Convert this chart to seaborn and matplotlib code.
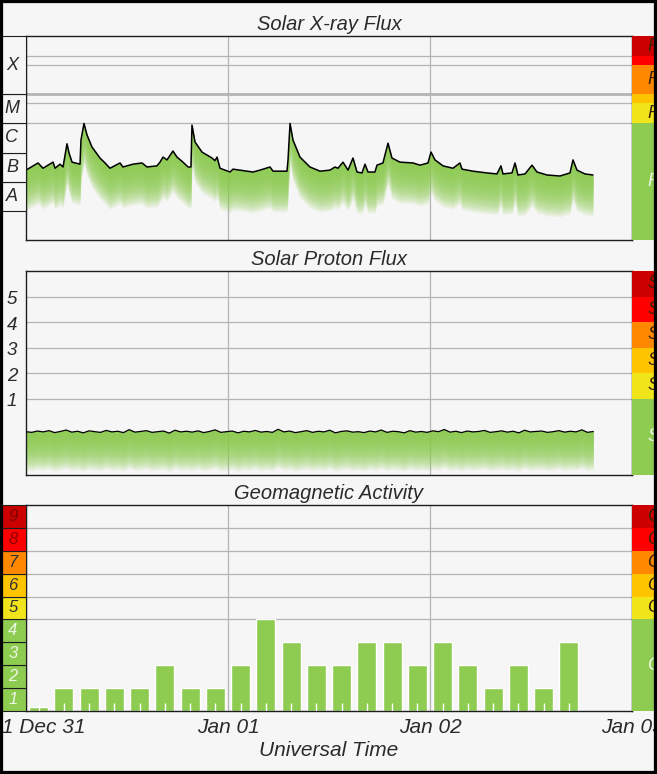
import numpy as np
import matplotlib
matplotlib.use("Agg")
import matplotlib.pyplot as plt
import matplotlib.transforms as mtransforms
from matplotlib.patches import Rectangle
import seaborn as sns

# ---- data (hours since 2021-12-31 00:00 UT) ----
xray_hours = [0.0, 1.43, 2.02, 3.21, 3.45, 4.04, 4.40, 4.87, 5.11, 5.47,
              6.42, 6.53, 6.89, 7.25, 7.84, 8.79, 9.39, 9.98, 11.17, 11.52,
              12.71, 13.78, 14.38, 15.56, 15.92, 16.28, 16.75, 17.46, 17.94, 18.65,
              19.25, 19.60, 19.72, 20.08, 20.91, 22.10, 22.45, 22.70, 23.05, 24.24,
              24.59, 26.97, 27.80, 28.99, 29.35, 31.01, 31.13, 31.37, 31.72, 32.55,
              33.74, 34.93, 36.12, 36.71, 37.07, 37.66, 38.26, 38.85, 39.33, 39.92,
              40.28, 40.63, 41.46, 41.70, 42.41, 43.01, 43.48, 44.43, 45.98, 46.81,
              47.76, 48.12, 48.59, 48.95, 49.54, 50.73, 51.56, 51.80, 53.11, 54.77,
              55.96, 56.43, 56.67, 57.74, 58.10, 58.45, 59.29, 60.12, 60.71, 61.90,
              63.44, 64.63, 64.99, 65.46, 66.41, 67.36]
xray_flux = [2.5e-7, 4.4e-7, 2.9e-7, 4.7e-7, 2.9e-7, 4.0e-7, 3.2e-7, 2.0e-6, 9.7e-7, 4.7e-7,
             4.0e-7, 2.7e-6, 1.0e-5, 4.0e-6, 1.55e-6, 6.5e-7, 4.4e-7, 2.9e-7, 4.4e-7, 3.2e-7,
             4.0e-7, 4.4e-7, 3.2e-7, 3.5e-7, 4.7e-7, 7.0e-7, 5.6e-7, 1.13e-6, 7.0e-7, 4.7e-7,
             3.2e-7, 3.2e-7, 8.8e-6, 2.3e-6, 1.04e-6, 6.5e-7, 5.3e-7, 7.0e-7, 2.9e-7, 2.15e-7,
             2.7e-7, 2.15e-7, 2.5e-7, 3.2e-7, 2.3e-7, 2.3e-7, 5.6e-7, 1.0e-5, 2.7e-6, 7.0e-7,
             3.2e-7, 2.3e-7, 2.5e-7, 3.2e-7, 2.9e-7, 4.7e-7, 2.5e-7, 6.5e-7, 2.15e-7, 2.0e-7,
             4.0e-7, 2.15e-7, 2.15e-7, 3.7e-7, 4.4e-7, 2.1e-6, 6.5e-7, 4.7e-7, 4.4e-7, 3.7e-7,
             4.4e-7, 1.04e-6, 5.6e-7, 4.7e-7, 3.5e-7, 2.9e-7, 4.4e-7, 2.7e-7, 2.3e-7, 2.0e-7,
             1.85e-7, 3.5e-7, 1.85e-7, 2.0e-7, 4.4e-7, 1.7e-7, 1.85e-7, 3.7e-7, 2.15e-7, 1.7e-7,
             1.57e-7, 2.0e-7, 5.6e-7, 2.5e-7, 1.85e-7, 1.7e-7]

proton_flux = [0.50, 0.47, 0.53, 0.49, 0.55, 0.46, 0.51, 0.58, 0.48, 0.52,
               0.45, 0.54, 0.50, 0.47, 0.56, 0.49, 0.52, 0.46, 0.60, 0.48,
               0.51, 0.55, 0.47, 0.50, 0.53, 0.44, 0.57, 0.49, 0.52, 0.48,
               0.54, 0.46, 0.51, 0.59, 0.47, 0.50, 0.53, 0.45, 0.52, 0.49,
               0.56, 0.48, 0.51, 0.47, 0.62, 0.49, 0.53, 0.46, 0.50, 0.55,
               0.47, 0.52, 0.49, 0.57, 0.45, 0.51, 0.54, 0.48, 0.50, 0.46,
               0.53, 0.49, 0.58, 0.47, 0.52, 0.50, 0.45, 0.55, 0.48, 0.51,
               0.47, 0.54, 0.50, 0.61, 0.48, 0.52, 0.46, 0.53, 0.49, 0.51,
               0.56, 0.47, 0.50, 0.54, 0.48, 0.52, 0.45, 0.57, 0.49, 0.51,
               0.53, 0.47, 0.50, 0.55, 0.48, 0.52, 0.49, 0.59, 0.47, 0.51]
proton_end_hour = 67.4

kp_values = [0.17, 1, 1, 1, 1, 2, 1, 1,
             2, 4, 3, 2, 2, 3, 3, 2,
             3, 2, 1, 2, 1, 3]

day_ticks = [0, 24, 48, 72]
day_labels = ["2021 Dec 31", "Jan 01", "Jan 02", "Jan 03"]

# scale definitions
DARKRED, RED, ORANGE, GOLD, YELLOW, GREEN = "#cc0000", "#ff0000", "#ff8800", "#ffc400", "#f0e41a", "#8dcc50"
xray_class_edges = [1e-8, 1e-7, 1e-6, 1e-5, 1e-4, 1e-2]
xray_class_labels = ["A", "B", "C", "M", "X"]
r_edges = [1e-9, 1e-5, 5e-5, 1e-4, 1e-3, 2e-3, 1e-2]
r_labels = ["R0", "R1", "", "R3", "", "R5"]
s_edges = [1e-2, 1e1, 1e2, 1e3, 1e4, 1e5, 1e6]
s_labels = ["S0", "S1", "S2", "S3", "S4", "S5"]
g_edges = [0, 4, 5, 6, 7, 8, 9]
g_labels = ["G0", "G1", "G2", "G3", "G4", "G5"]
scale_colors = [GREEN, YELLOW, GOLD, ORANGE, RED, DARKRED]
kp_box_labels = ["1", "2", "3", "4", "5", "6", "7", "8", "9"]
kp_box_colors = [GREEN] * 4 + [YELLOW, GOLD, ORANGE, RED, DARKRED]
kp_text_colors = ["#eef6e6"] * 4 + ["#333333"] * 3 + ["#8a0000", "#7a0000"]

BG = "#f6f6f6"
GRID = "#b4b4b4"
FRAME = "#1e1e1e"
DARK = "#2a2a2a"

sns.set_theme(style="white")
plt.rcParams["font.family"] = ["Liberation Sans", "DejaVu Sans"]
plt.rcParams["font.style"] = "italic"

W, H = 657, 774
fig = plt.figure(figsize=(W / 100, H / 100), dpi=100)
fig.patch.set_facecolor(BG)


def panel(top, bottom):
    ax = fig.add_axes([26 / W, 1 - bottom / H, 606 / W, (bottom - top) / H])
    ax.set_facecolor(BG)
    for s in ax.spines.values():
        s.set_color(FRAME)
        s.set_linewidth(1.0)
    ax.set_xlim(0, 72)
    ax.set_yticks([])
    ax.set_xticks([])
    for d in day_ticks[1:-1]:
        ax.axvline(d, color=GRID, lw=0.9, zorder=0.5)
    return ax


def px(p):
    # pixel column -> axes fraction
    return (p - 26) / 606


def side_column(ax, edges, colors, labels, tcolors, x0, x1, tx, fs, edge=None, ha="center"):
    trans = mtransforms.blended_transform_factory(ax.transAxes, ax.transData)
    for lo, hi, c, lab, tc in zip(edges[:-1], edges[1:], colors, labels, tcolors):
        ax.add_patch(Rectangle((px(x0), lo), px(x1) - px(x0), hi - lo, transform=trans,
                               facecolor=c, edgecolor=edge if edge else c,
                               lw=0.8 if edge else 0, clip_on=False, zorder=5))
        if lab:
            ax.text(px(tx), (lo + hi) / 2, lab, transform=trans, ha=ha, va="center",
                    fontsize=fs, color=tc, clip_on=False, zorder=6)


def gradient_fill(ax, x, y, depth, n=24):
    y = np.asarray(y)
    for k in range(1, n + 1):
        ax.fill_between(x, y - depth * k / n, y, color=GREEN, alpha=0.11, lw=0, zorder=1)


# ---- Solar X-ray Flux ----
ax1 = panel(36, 240)
ax1.set_ylim(-9, -2)
ax1.set_title("Solar X-ray Flux", fontsize=14.5, color=DARK, pad=4)
for v in r_edges[1:-1]:
    ax1.axhline(np.log10(v), color=GRID, lw=2.0 if v == 1e-4 else 0.9, zorder=0.5)
xlog = np.log10(xray_flux)
gradient_fill(ax1, xray_hours, xlog, 1.4)
sns.lineplot(x=xray_hours, y=xlog, ax=ax1, color="black", lw=1.1, estimator=None, zorder=3)
side_column(ax1, np.log10(xray_class_edges), [BG] * 5, xray_class_labels, [DARK] * 5,
            -2, 26, 12, 13, edge=FRAME)
side_column(ax1, np.log10(r_edges), scale_colors, r_labels,
            ["#eef6e6"] + ["#3a2208"] * 5, 632, 680, 647, 13, ha="left")

# ---- Solar Proton Flux ----
ax2 = panel(271, 475)
ax2.set_ylim(-2, 6)
ax2.set_title("Solar Proton Flux", fontsize=14.5, color=DARK, pad=4)
for k in range(1, 6):
    ax2.axhline(k, color=GRID, lw=0.9, zorder=0.5)
    ax2.text(px(12), k - 0.12, str(k), transform=mtransforms.blended_transform_factory(ax2.transAxes, ax2.transData),
             ha="center", va="center", fontsize=13.5, color=DARK, clip_on=False)
p_hours = np.linspace(0, proton_end_hour, len(proton_flux))
plog = np.log10(proton_flux)
gradient_fill(ax2, p_hours, plog, 1.5)
sns.lineplot(x=p_hours, y=plog, ax=ax2, color="black", lw=0.9, estimator=None, zorder=3)
side_column(ax2, np.log10(s_edges), scale_colors, s_labels,
            ["#eef6e6"] + ["#3a2208"] * 5, 632, 680, 647, 13, ha="left")

# ---- Geomagnetic Activity ----
ax3 = panel(505, 711)
ax3.set_ylim(0, 9)
ax3.set_title("Geomagnetic Activity", fontsize=14.5, color=DARK, pad=4)
for k in range(4, 9):
    ax3.axhline(k, color=GRID, lw=0.9, zorder=0.5)
kp_centers = np.arange(len(kp_values)) * 3 + 1.5
sns.barplot(x=kp_centers, y=kp_values, ax=ax3, native_scale=True, orient="x",
            width=0.76, color=GREEN, saturation=1, errorbar=None, zorder=2)
ax3.vlines(kp_centers, 0, 0.35, color="white", lw=1.0, zorder=3)
ax3.set_xlim(0, 72)
ax3.set_ylim(0, 9)
ax3.set_yticks([])
ax3.set_ylabel("")
side_column(ax3, list(range(10)), kp_box_colors, kp_box_labels, kp_text_colors,
            -2, 26, 13, 12, edge=FRAME)
side_column(ax3, g_edges, scale_colors, g_labels,
            ["#eef6e6"] + ["#3a2208"] * 5, 632, 680, 647, 13, ha="left")
ax3.set_xticks(day_ticks)
ax3.set_xticklabels(day_labels)
ax3.tick_params(axis="x", length=0, pad=5, labelsize=15, colors=DARK)
ax3.set_xlabel("")
ax3.text(0.5, -(750 - 711) / 206, "Universal Time", transform=ax3.transAxes,
         ha="center", va="center", fontsize=15, color=DARK, clip_on=False)

# black frame round the image
fig.patches.append(Rectangle((0, 0), 1, 1, transform=fig.transFigure, fill=False,
                             edgecolor="black", lw=4.5, zorder=10))

fig.savefig("out.png", dpi=100, facecolor=BG)
